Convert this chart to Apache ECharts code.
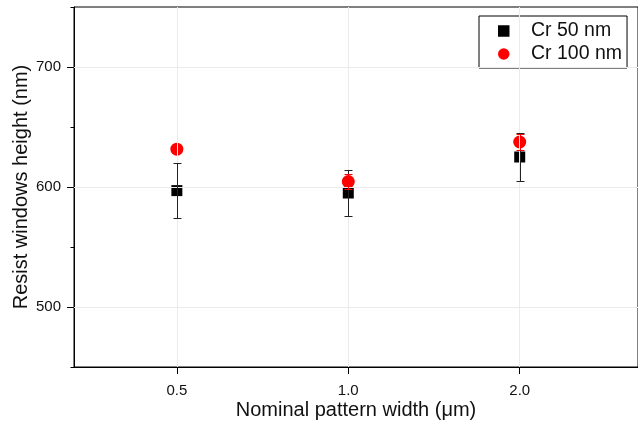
<!DOCTYPE html>
<html>
<head>
<meta charset="utf-8">
<script src="https://cdn.jsdelivr.net/npm/echarts@6/dist/echarts.min.js"></script>
<style>
  html, body { margin: 0; padding: 0; background: #fff; }
  #chart { width: 638px; height: 423px; }
</style>
</head>
<body>
<div id="chart"></div>
<script>
// Nominal pattern widths (category labels, placed at x = 0, 1, 2)
const widths = ['0.5', '1.0', '2.0'];
// Resist window height, Cr 50 nm mask (mean and +/- error, nm)
const cr50Height = [597, 595, 625];
const cr50Error = [23, 19.5, 19.7];
// Resist window height, Cr 100 nm mask (mean and +/- error, nm)
const cr100Height = [631.5, 604.5, 637.5];
const cr100Error = [0, 6, 7];
// Labelled y ticks
const yTickLabels = [500, 600, 700];
const seriesNames = ['Cr 50 nm', 'Cr 100 nm'];

const FONT = '"Liberation Sans", Arial, sans-serif';
const TEXT = '#111';
const X_MIN = -0.6, X_MAX = 2.69;
const Y_MIN = 450, Y_MAX = 750;

const xIdx = widths.map((_, i) => i);
const points = vals => vals.map((v, i) => [i, v]);
const bars = (vals, errs) => vals.map((v, i) => [i, v - errs[i], v + errs[i]]);

function errorBar(color) {
  return function (params, api) {
    const x = api.value(0), lo = api.value(1), hi = api.value(2);
    if (hi === lo) return null;
    const top = api.coord([x, hi]);
    const bot = api.coord([x, lo]);
    const cx = Math.round(top[0]) + 0.5;
    const ty = Math.round(top[1]) + 0.5;
    const by = Math.round(bot[1]) + 0.5;
    const style = { stroke: color, lineWidth: 1 };
    return {
      type: 'group',
      children: [
        { type: 'line', shape: { x1: cx, y1: ty, x2: cx, y2: by }, style },
        { type: 'line', shape: { x1: cx - 4, y1: ty, x2: cx + 4, y2: ty }, style },
        { type: 'line', shape: { x1: cx - 4, y1: by, x2: cx + 4, y2: by }, style }
      ]
    };
  };
}

const chart = echarts.init(document.getElementById('chart'), null, { renderer: 'canvas' });

chart.setOption({
  animation: false,
  backgroundColor: '#fff',
  textStyle: { fontFamily: FONT },
  grid: {
    left: 74, top: 7, right: 0, bottom: 56,
    containLabel: false, outerBoundsMode: 'none',
    show: true, borderColor: '#000', borderWidth: 1, backgroundColor: 'transparent'
  },
  legend: {
    data: [
      { name: seriesNames[0], icon: 'rect' },
      { name: seriesNames[1], icon: 'circle' }
    ],
    orient: 'vertical',
    left: 479, top: 16,
    padding: [5, 5, 4, 19],
    itemWidth: 11.5, itemHeight: 11.5, itemGap: 3,
    borderColor: '#000', borderWidth: 1,
    backgroundColor: '#fff',
    textStyle: { fontFamily: FONT, fontSize: 19.5, color: TEXT, lineHeight: 20, padding: [0, 0, 0, 16.5] }
  },
  xAxis: {
    type: 'value',
    min: X_MIN, max: X_MAX,
    name: 'Nominal pattern width (μm)',
    nameLocation: 'middle', nameGap: 33.5, nameMoveOverlap: false,
    nameTextStyle: { fontFamily: FONT, fontSize: 20, color: TEXT },
    axisLine: { show: true, onZero: false, lineStyle: { color: '#000', width: 1 } },
    axisTick: { show: true, customValues: xIdx, length: 7, lineStyle: { color: '#000' } },
    axisLabel: {
      customValues: xIdx, margin: 16.5,
      fontFamily: FONT, fontSize: 15, color: TEXT,
      formatter: v => widths[Math.round(v)]
    },
    splitLine: { show: false }
  },
  yAxis: [
    {
      // minor ticks every 50 nm
      type: 'value', min: Y_MIN, max: Y_MAX, interval: 50, position: 'left',
      axisLine: { show: true, onZero: false, lineStyle: { color: '#000', width: 1 } },
      axisTick: { show: true, length: 3.5, lineStyle: { color: '#000' } },
      axisLabel: { show: false },
      splitLine: { show: false }
    },
    {
      // labelled major ticks
      type: 'value', min: Y_MIN, max: Y_MAX, position: 'left',
      name: 'Resist windows height (nm)',
      nameLocation: 'middle', nameGap: 43, nameMoveOverlap: false,
      nameTextStyle: { fontFamily: FONT, fontSize: 20, color: TEXT },
      axisLine: { show: false, onZero: false },
      axisTick: { show: true, customValues: yTickLabels, length: 7, lineStyle: { color: '#000' } },
      axisLabel: { customValues: yTickLabels, margin: 13, fontFamily: FONT, fontSize: 15, color: TEXT },
      splitLine: { show: false }
    }
  ],
  series: [
    {
      // light grid lines
      name: 'grid', type: 'line', data: [], z: 0, silent: true,
      markLine: {
        silent: true, symbol: 'none', label: { show: false },
        lineStyle: { color: '#ebebeb', width: 1, type: 'solid' },
        data: xIdx.map(i => ({ xAxis: i })).concat(yTickLabels.map(v => ({ yAxis: v })))
      }
    },
    {
      name: seriesNames[0], type: 'scatter', symbol: 'rect', symbolSize: 11,
      itemStyle: { color: '#000', opacity: 1 }, z: 3,
      data: points(cr50Height)
    },
    {
      name: seriesNames[1], type: 'scatter', symbol: 'circle', symbolSize: 13,
      itemStyle: { color: '#ff0000', opacity: 1 }, z: 4,
      data: points(cr100Height)
    },
    {
      name: 'err50', type: 'custom', z: 5,
      renderItem: errorBar('#222'),
      encode: { x: 0, y: [1, 2] },
      data: bars(cr50Height, cr50Error)
    },
    {
      name: 'err100', type: 'custom', z: 6,
      renderItem: errorBar('#ff0000'),
      encode: { x: 0, y: [1, 2] },
      data: bars(cr100Height, cr100Error)
    }
  ]
});
</script>
</body>
</html>
